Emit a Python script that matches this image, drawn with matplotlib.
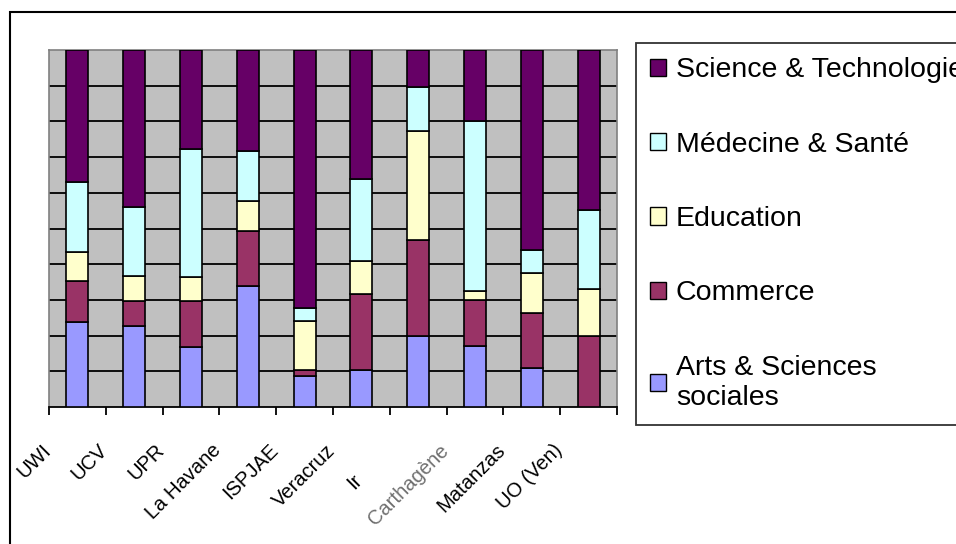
import numpy as np
import matplotlib
matplotlib.use("Agg")
import matplotlib.pyplot as plt
import matplotlib.transforms as mtransforms
from matplotlib.patches import Patch, Rectangle

plt.rcParams["font.family"] = ["Liberation Sans", "DejaVu Sans"]

universites = ["UWI", "UCV", "UPR", "La Havane", "ISPJAE", "Veracruz", "Ir",
               "Carthagène", "Matanzas", "UO (Ven)"]
arts = [23.9, 22.8, 16.7, 34.0, 8.7, 10.3, 19.9, 17.2, 11.0, 0.0]
commerce = [11.3, 6.8, 12.9, 15.3, 1.6, 21.3, 27.0, 12.9, 15.2, 20.0]
education = [8.3, 7.2, 6.7, 8.4, 13.7, 9.2, 30.4, 2.3, 11.3, 13.0]
medecine = [19.5, 19.2, 36.1, 14.0, 3.7, 23.0, 12.4, 47.7, 6.6, 22.3]
science = [37.0, 44.0, 27.6, 28.3, 72.3, 36.2, 10.3, 19.9, 55.9, 44.7]

series = [
    ("Arts & Sciences\nsociales", arts, "#9999FF"),
    ("Commerce", commerce, "#993366"),
    ("Education", education, "#FFFFCC"),
    ("Médecine & Santé", medecine, "#CCFFFF"),
    ("Science & Technologie", science, "#660066"),
]

W, H = 956, 544
fig = plt.figure(figsize=(W / 100, H / 100), dpi=100)
ax = fig.add_axes([49 / W, 1 - 407 / H, (617 - 49) / W, (407 - 50) / H])
ax.set_facecolor("#C0C0C0")

x = np.arange(len(universites))
total = np.sum([s[1] for s in series], axis=0)
bottom = np.zeros(len(universites))
handles = []
for nom, vals, couleur in series:
    pct = np.array(vals) / total * 100
    ax.bar(x, pct, width=0.39, bottom=bottom, color=couleur,
           edgecolor="black", linewidth=1.2, zorder=3)
    bottom += pct
    handles.append(Patch(facecolor=couleur, edgecolor="black", linewidth=1.0, label=nom))

ax.set_xlim(-0.5, len(universites) - 0.5)
ax.set_ylim(0, 100)
for yv in range(10, 100, 10):
    ax.axhline(yv, color="black", linewidth=1.3, zorder=1)
ax.set_yticks([])

for side in ["left", "top", "right"]:
    ax.spines[side].set_color("#808080")
    ax.spines[side].set_linewidth(1.2)
ax.spines["bottom"].set_color("black")
ax.spines["bottom"].set_linewidth(1.3)

ax.set_xticks(x)
ax.set_xticks(np.arange(-0.5, len(universites), 1), minor=True)
ax.tick_params(axis="x", which="major", length=0, pad=10)
ax.tick_params(axis="x", which="minor", length=6, width=1.3, direction="out")
ax.set_xticklabels(universites, rotation=45, ha="right", va="top",
                   rotation_mode="anchor", fontsize=14.5)
offset = mtransforms.ScaledTranslation(-0.36, -0.2, fig.dpi_scale_trans)
for lab in ax.get_xticklabels():
    lab.set_transform(lab.get_transform() + offset)
    if lab.get_text() == "Carthagène":
        lab.set_color("#707070")
    if lab.get_text() == "Ir":
        lab.set_transform(lab.get_transform()
                          + mtransforms.ScaledTranslation(-0.3, -0.3, fig.dpi_scale_trans))

leg = fig.legend(handles[::-1], [h.get_label() for h in handles[::-1]],
                 loc="upper left", bbox_to_anchor=(636 / W, 1 - 43 / H),
                 fontsize=20.5, frameon=True, fancybox=False, edgecolor="black",
                 borderpad=0.5, labelspacing=1.7, handlelength=0.55,
                 handleheight=0.55, handletextpad=0.35, borderaxespad=0)
leg.get_frame().set_linewidth(1.3)

fig.patches.append(Rectangle((10 / W, -0.1), 1.2, 1.1 - 12 / H, transform=fig.transFigure,
                             fill=False, edgecolor="black", linewidth=1.5))

fig.savefig("out.png", dpi=100)
